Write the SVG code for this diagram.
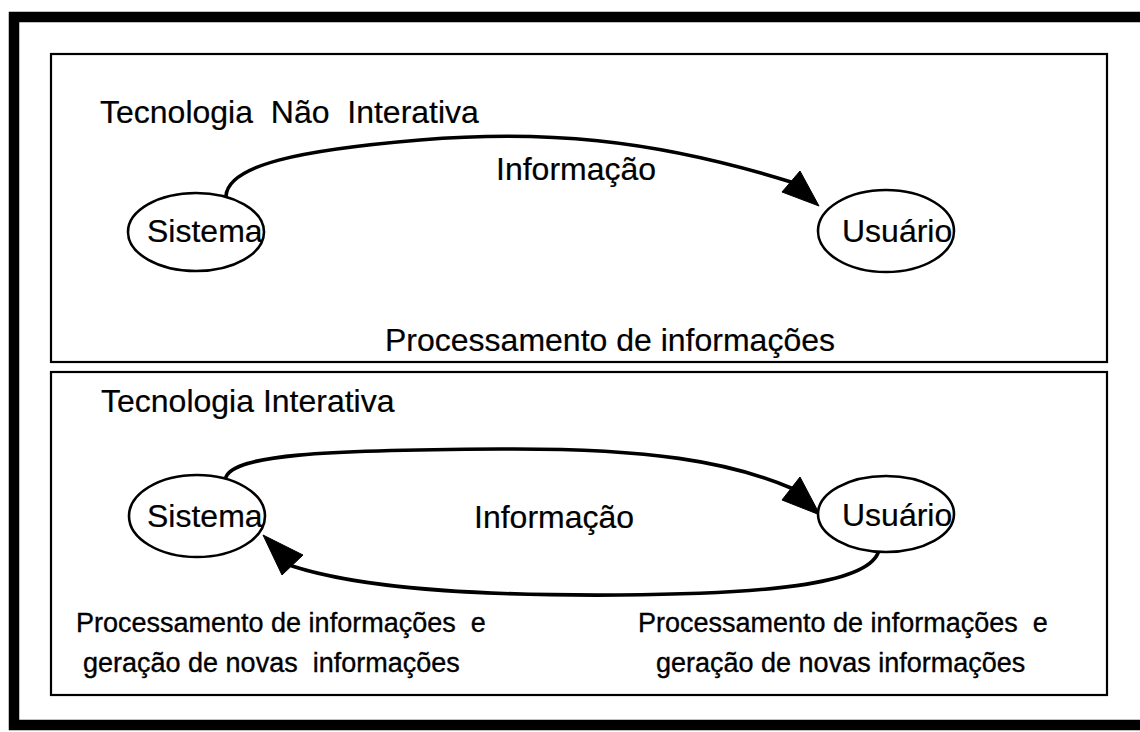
<svg xmlns="http://www.w3.org/2000/svg" width="1140" height="732" viewBox="0 0 1140 732">
<style>
text{font-family:"Liberation Sans",Arial,sans-serif;fill:#000;white-space:pre}
.big{font-size:32px;stroke:#000;stroke-width:0.2px}
.small{font-size:27px;stroke:#000;stroke-width:0.35px}
.box{fill:none;stroke:#000;stroke-width:2.2}
.node{fill:#fff;stroke:#000;stroke-width:2.6}
.edge{fill:none;stroke:#000;stroke-width:3.6;stroke-linecap:round}
.head{fill:#000;stroke:#000;stroke-width:1;stroke-linejoin:round}
</style>
<rect width="1140" height="732" fill="#fff"/>
<rect id="frame" x="14" y="17" width="1140" height="708" fill="none" stroke="#000" stroke-width="10.5"/>
<g id="panel-top">
<rect class="box" x="51" y="54" width="1056" height="308"/>
<text class="big" x="100" y="123">Tecnologia  Não  Interativa</text>
<text class="big" x="385" y="351">Processamento de informações</text>
</g>
<g id="panel-bottom">
<rect class="box" x="51" y="372" width="1056" height="323"/>
<text class="big" x="101" y="412">Tecnologia Interativa</text>
<text class="small" x="76" y="632">Processamento de informações  e</text>
<text class="small" x="83" y="672">geração de novas  informações</text>
<text class="small" x="638" y="632">Processamento de informações  e</text>
<text class="small" x="656" y="672">geração de novas informações</text>
</g>
<g id="connectors">
<path class="edge" d="M226,196 C228,165 300,150 420,140 C540,130 650,138 791,182"/>
<polygon class="head" points="819,206 782,192 800,171"/>
<text class="big" x="496" y="180">Informação</text>
<path class="edge" d="M226,477 C235,455 320,450 500,449 C650,448 730,462 791,488"/>
<polygon class="head" points="820,515 782,500 800,477"/>
<path class="edge" d="M878,553 C865,585 760,594 620,595 C470,596 360,588 292,566"/>
<polygon class="head" points="263,535 282,575 303,555"/>
<text class="big" x="474" y="528">Informação</text>
</g>
<g id="node-sistema-top">
<ellipse class="node" cx="196" cy="232" rx="68" ry="39"/>
<text class="big" x="147" y="242">Sistema</text>
</g>
<g id="node-usuario-top">
<ellipse class="node" cx="886" cy="231" rx="68" ry="41"/>
<text class="big" x="842" y="242">Usuário</text>
</g>
<g id="node-sistema-bottom">
<ellipse class="node" cx="197" cy="516" rx="68" ry="41"/>
<text class="big" x="147" y="527">Sistema</text>
</g>
<g id="node-usuario-bottom">
<ellipse class="node" cx="886" cy="514" rx="68" ry="38"/>
<text class="big" x="842" y="526">Usuário</text>
</g>
</svg>
